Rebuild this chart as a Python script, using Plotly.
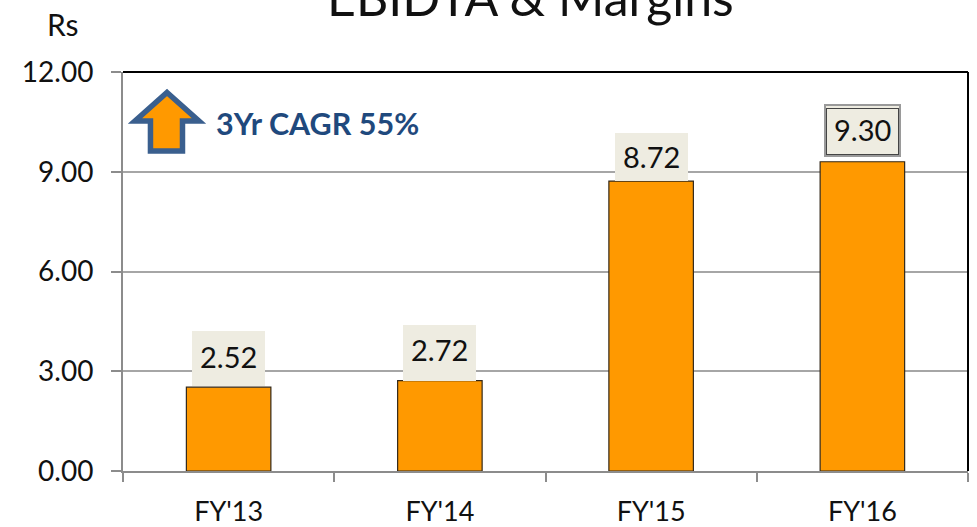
import plotly.graph_objects as go

categories = ["FY'13", "FY'14", "FY'15", "FY'16"]
values = [2.52, 2.72, 8.72, 9.30]
labels = ["2.52", "2.72", "8.72", "9.30"]
y_ticks = [0, 3, 6, 9, 12]
y_tick_labels = ["0.00", "3.00", "6.00", "9.00", "12.00"]

W, H = 977, 527
L, R, T, B = 123, 968, 72, 471
FONT = "Lato"
ORANGE = "#FF9900"
BLUE = "#3A5F8E"
GREY = "#8C8C8C"

box_heights = [55, 56, 48, 49]
box_shifts = [1, 0, 0, 5]
text_shifts = [31, 31, 25, 32]


def px(x):
    return (x - L) / (R - L)


def py(y):
    return (B - y) / (B - T)


fig = go.Figure(go.Bar(
    x=categories, y=values, width=0.4,
    marker=dict(color=ORANGE, line=dict(color="#33281A", width=1.2)),
    hoverinfo="skip",
))

for i, (c, v, t) in enumerate(zip(categories, values, labels)):
    boxed = i == 3
    fig.add_annotation(
        x=c, y=v, xref="x", yref="y", text=" ", showarrow=False, yanchor="bottom",
        yshift=box_shifts[i], width=73, height=box_heights[i],
        bgcolor="#EEECE1", borderpad=0,
        bordercolor="#9A9A9A" if boxed else "#EEECE1",
        borderwidth=2 if boxed else 0,
    )
    if boxed:
        fig.add_annotation(
            x=c, y=v, xref="x", yref="y", text=" ", showarrow=False, yanchor="bottom",
            yshift=box_shifts[i] + 2, width=71, height=box_heights[i] - 4,
            borderpad=0, bordercolor="#444444", borderwidth=1,
        )
    fig.add_annotation(
        x=c, y=v, xref="x", yref="y", text=t, showarrow=False, yanchor="middle",
        yshift=text_shifts[i],
        font=dict(family=FONT, size=29, color="#111111"),
    )

fig.add_annotation(
    x=px(214), y=py(123), xref="paper", yref="paper", xanchor="left", yanchor="middle",
    text="<b>3Yr CAGR 55%</b>", showarrow=False,
    font=dict(family=FONT, size=30.5, color="#1F497D"),
)
fig.add_annotation(
    x=px(530), y=py(-3), xref="paper", yref="paper", xanchor="center", yanchor="middle",
    text="EBIDTA &amp; Margins", showarrow=False,
    font=dict(family=FONT, size=50, color="#111111"),
)
fig.add_annotation(
    x=px(63), y=py(24), xref="paper", yref="paper", xanchor="center", yanchor="middle",
    text="Rs", showarrow=False,
    font=dict(family=FONT, size=30, color="#111111"),
)

arrow = [(167, 92.5), (199, 121), (182.5, 121), (182.5, 151), (150.5, 151), (150.5, 121), (135, 121)]
path = "M " + " L ".join(f"{px(x):.4f} {py(y):.4f}" for x, y in arrow) + " Z"
fig.add_shape(type="path", xref="paper", yref="paper", path=path,
              fillcolor=ORANGE, line=dict(color=BLUE, width=5.5))

fig.add_shape(type="line", xref="paper", yref="paper", x0=0, x1=1, y0=1, y1=1,
              line=dict(color="#000000", width=2))
fig.add_shape(type="line", xref="paper", yref="paper", x0=1, x1=1, y0=0, y1=1,
              line=dict(color="#000000", width=2))

fig.update_layout(
    width=W, height=H,
    margin=dict(l=L, r=W - R, t=T, b=H - B),
    paper_bgcolor="white", plot_bgcolor="white",
    showlegend=False, font=dict(family=FONT, color="#111111"),
    xaxis=dict(
        tickmode="array", tickvals=categories, ticktext=categories,
        tickson="boundaries", ticks="outside", ticklen=9, tickwidth=2, tickcolor=GREY,
        showgrid=False, showline=True, linecolor=GREY, linewidth=2,
        tickfont=dict(family=FONT, size=27, color="#111111"),
        ticklabelstandoff=16, automargin=False,
        range=[-0.5, 3.5],
    ),
    yaxis=dict(
        range=[0, 12], tickmode="array", tickvals=y_ticks, ticktext=y_tick_labels,
        ticks="outside", ticklen=10, tickwidth=2, tickcolor=GREY,
        showgrid=True, gridcolor="#A6A6A6", gridwidth=2,
        showline=True, linecolor=GREY, linewidth=2, zeroline=False, automargin=False,
        tickfont=dict(family=FONT, size=28, color="#111111"),
        ticklabelstandoff=12,
    ),
)

fig.write_html("out.html", config={"displayModeBar": False},
               post_script="document.body.style.margin='0';")
